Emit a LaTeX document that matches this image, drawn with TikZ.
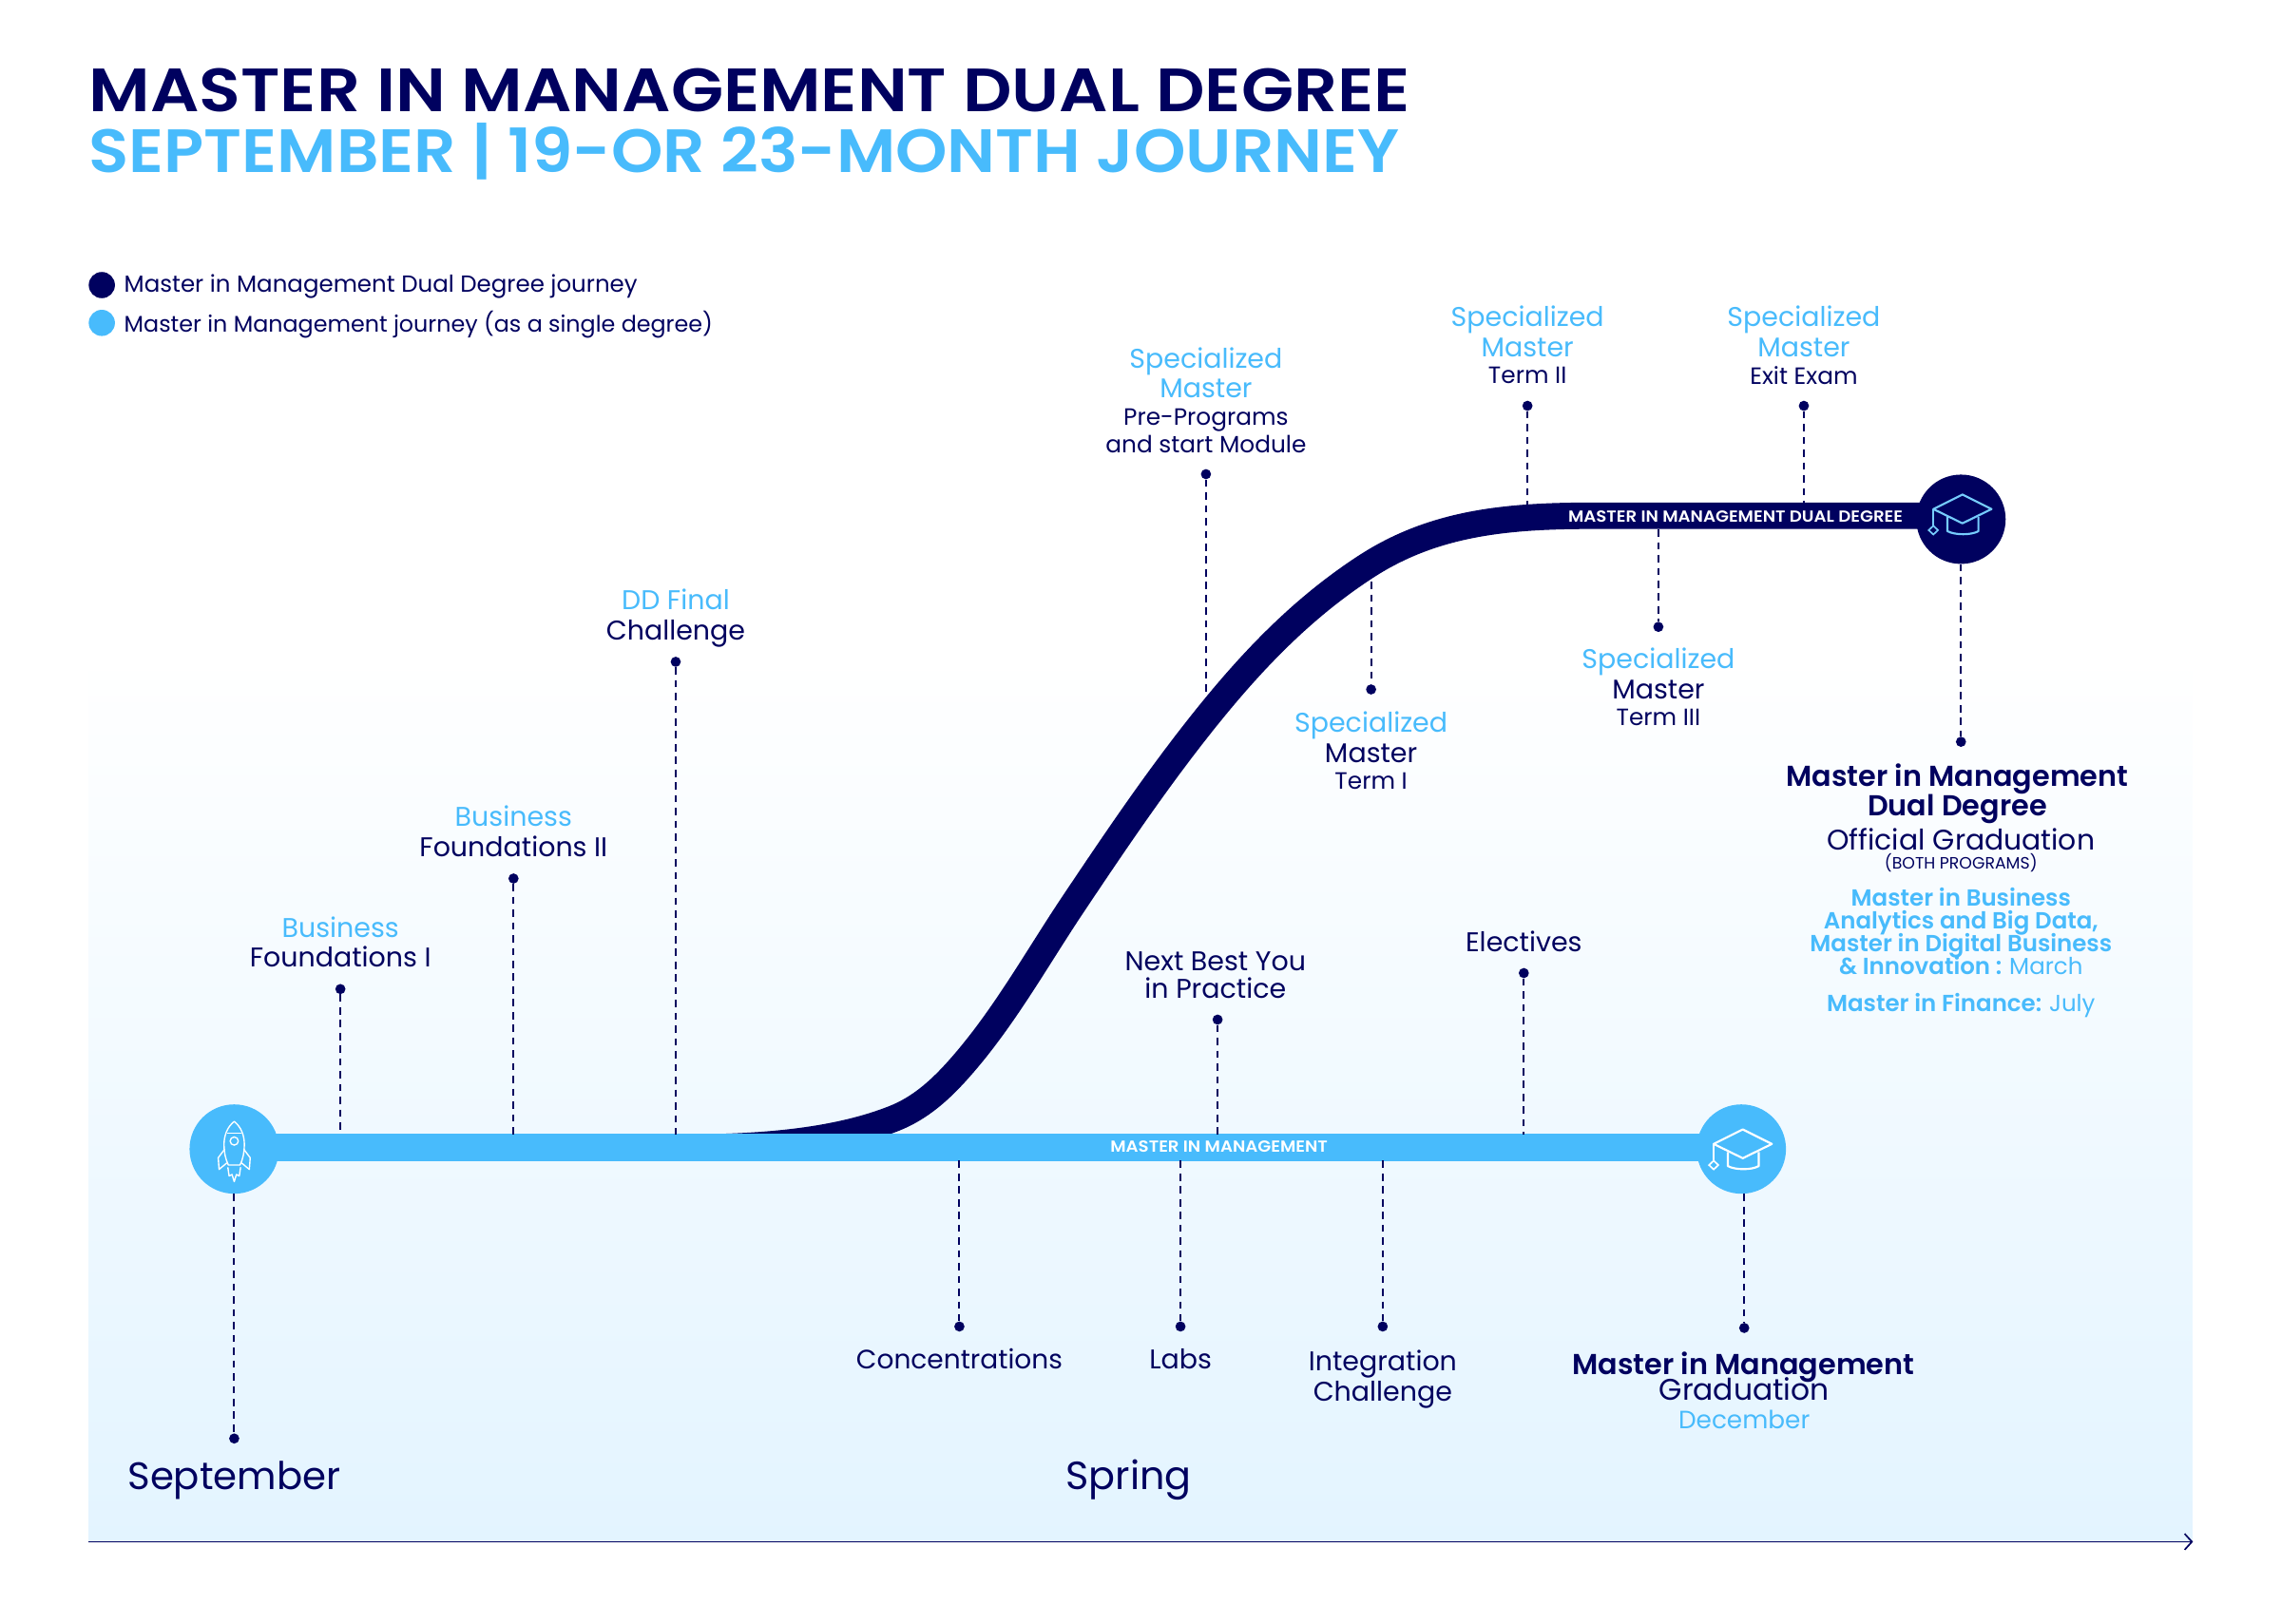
\documentclass[tikz,border=0pt]{standalone}
\usepackage{fontspec}
\usetikzlibrary{positioning,arrows.meta}
\setmainfont{Poppins}[BoldFont={Poppins SemiBold}]
\definecolor{navy}{HTML}{00015F}
\definecolor{sky}{HTML}{48BBFC}
\definecolor{bgblue}{HTML}{E3F4FF}
\lineskiplimit=-10pt
\tikzset{
  lbl/.style={anchor=north, inner sep=0pt, align=center, text=navy, font=\fontsize{18.6}{20.7}\selectfont},
  sublbl/.style={lbl, font=\fontsize{16.2}{18.5}\selectfont},
  boldlbl/.style={lbl, font=\fontsize{19.8}{20}\bfseries},
  bluelbl/.style={lbl, text=sky, font=\fontsize{16}{15.7}\bfseries},
  dot/.style={circle, fill=navy, inner sep=0pt, minimum size=7pt},
  conn/.style={navy, line width=1.3pt, dash pattern=on 5pt off 3.8pt},
  barlbl/.style={inner sep=0pt, text=white, font=\fontsize{11}{12}\bfseries\addfontfeature{FakeStretch=1.08}},
  pics/hat/.style={code={
    \draw[#1, line width=1.4pt, line join=round] (1,-13.5) -- (21,-3.5) -- (1,6.3) -- (-19,-3.5) -- cycle;
    \draw[#1, line width=1.4pt, line join=round] (-9.3,2) -- (-9.3,11.7) .. controls (-4,14.5) and (7,14.5) .. (12,11.7) -- (12,2);
    \draw[#1, line width=1.1pt] (-19,-3.5) -- (-19,8);
    \draw[#1, line width=1.1pt] (-19,8) -- (-15.8,11) -- (-19,14) -- (-22.2,11) -- cycle;
  }},
  pics/rocket/.style={code={
    \draw[#1, line width=0.9pt, line join=round] (0,-19) .. controls (-5,-15) and (-7,-9) .. (-7,-3) .. controls (-7,2) and (-6,7) .. (-4,11) -- (4,11) .. controls (6,7) and (7,2) .. (7,-3) .. controls (7,-9) and (5,-15) .. (0,-19) -- cycle;
    \draw[#1, line width=0.9pt] (-4.8,-11) -- (4.8,-11);
    \draw[#1, line width=0.9pt] (0,-5.5) circle[radius=2.8pt];
    \draw[#1, line width=0.9pt, line join=round] (-6.5,0) -- (-11,6) -- (-10.4,14) -- (-5,9.5);
    \draw[#1, line width=0.9pt, line join=round] (6.5,0) -- (11,6) -- (10.4,14) -- (5,9.5);
    \draw[#1, line width=0.9pt, line join=round] (-4.4,12.5) -- (-3.5,18.5) -- (-1.5,17.5) -- (0,22.4) -- (1.5,17.5) -- (3.5,18.5) -- (4.4,12.5);
  }}
}
\begin{document}
\begin{tikzpicture}[x=1pt, y=-1pt, >={Straight Barb[length=5pt,width=11pt]}]
\useasboundingbox (0,0) rectangle (1568,1116);
% background
\fill[white] (0,0) rectangle (1568,1116);
\shade[top color=white, bottom color=bgblue] (61,450) rectangle (1507,1060);
\coordinate (axisl) at (61,1060);
\coordinate (axisr) at (1507.5,1060);
\draw[->, navy, line width=1.1pt] (axisl) -- (axisr);
% title
\node[anchor=base west, inner sep=0pt, text=navy, font=\fontsize{42}{46}\bfseries\addfontfeature{FakeStretch=1.117}] (title) at (61,76.5) {MASTER IN MANAGEMENT DUAL DEGREE};
\node[anchor=base west, inner sep=0pt, text=sky, font=\fontsize{42}{46}\bfseries\addfontfeature{FakeStretch=1.078}] (subtitle) at (61,118.5) {SEPTEMBER | 19-OR 23-MONTH JOURNEY};
% legend
\node[circle, fill=navy, inner sep=0pt, minimum size=18pt] (legdual) at (70,196) {};
\node[circle, fill=sky, inner sep=0pt, minimum size=18pt] (legsingle) at (70,222) {};
\node[inner sep=0pt, text=navy, font=\fontsize{16}{18}\selectfont, right=6pt of legdual, yshift=-1pt] (legdualtxt) {Master in Management Dual Degree journey};
\node[inner sep=0pt, text=navy, font=\fontsize{15.55}{18}\selectfont, right=6pt of legsingle, yshift=-1pt] (legsingletxt) {Master in Management journey (as a single degree)};
% journeys
\coordinate (curvestart) at (470,789);
\coordinate (curveend) at (1094,354.6);
\coordinate (barend) at (1340,354.6);
\node[circle, fill=navy, inner sep=0pt, minimum size=61.4pt] (capdual) at (1348,357) {};
\draw[navy, line width=18.2pt] (curvestart) .. controls (530,789) and (577,783.6) .. (614,769.2) .. controls (632.6,762) and (646.8,749) .. (660,734) .. controls (690.4,699.5) and (712.7,658.9) .. (738.3,620.7) .. controls (768.3,575.9) and (798,531.9) .. (832,490) .. controls (863.5,451.2) and (896.8,417.1) .. (938.6,389.8) .. controls (984.6,359.8) and (1034,354.6) .. (curveend) -- (barend);
\coordinate (barl) at (170,789);
\coordinate (barr) at (1190,789);
\draw[sky, line width=18.6pt] (barl) -- (barr);
\node[circle, fill=sky, inner sep=0pt, minimum size=61.4pt] (start) at (161,790) {};
\node[circle, fill=sky, inner sep=0pt, minimum size=61.4pt] (capsingle) at (1197,790) {};
\pic at (161,790) {rocket=white};
\pic at (1197,790) {hat=white};
\pic at (1348,353.5) {hat=sky!75!white};
\node[barlbl] (barsingle) at (838,788) {MASTER IN MANAGEMENT};
\node[barlbl] (bardual) at (1193,355) {MASTER IN MANAGEMENT DUAL DEGREE};
% points above the lines
\node[dot] (found1) at (234,680) {};
\coordinate (found1end) at (234,780);
\draw[conn] (found1) -- (found1end);
\node[lbl] at (234,630) {\textcolor{sky}{Business}\\Foundations I};
\node[dot] (found2) at (353,604) {};
\coordinate (found2end) at (353,780);
\draw[conn] (found2) -- (found2end);
\node[lbl] at (353,554) {\textcolor{sky}{Business}\\Foundations II};
\node[dot] (ddfinal) at (464.5,455) {};
\coordinate (ddfinalend) at (464.5,780);
\draw[conn] (ddfinal) -- (ddfinalend);
\node[lbl] at (464.5,405) {\textcolor{sky}{DD Final}\\Challenge};
\node[dot] (pre) at (829,326) {};
\coordinate (preend) at (829,482);
\draw[conn] (pre) -- (preend);
\node[lbl, text=sky] at (829,238.5) {Specialized\\Master};
\node[sublbl] at (829,281) {Pre-Programs\\and start Module};
\node[dot] (term2) at (1050,279) {};
\coordinate (term2end) at (1050,347);
\draw[conn] (term2) -- (term2end);
\node[lbl, text=sky] at (1050,210) {Specialized\\Master};
\node[sublbl] at (1050,252) {Term II};
\node[dot] (exit) at (1240,279) {};
\coordinate (exitend) at (1240,346);
\draw[conn] (exit) -- (exitend);
\node[lbl, text=sky] at (1240,210) {Specialized\\Master};
\node[sublbl] at (1240,252) {Exit Exam};
\node[dot] (next) at (837,701) {};
\coordinate (nextend) at (837,780);
\draw[conn] (next) -- (nextend);
\node[lbl, font=\fontsize{18.6}{19}\selectfont] at (835.5,654) {Next Best You\\in Practice};
\node[dot] (elect) at (1047.5,669) {};
\coordinate (electend) at (1047.5,780);
\draw[conn] (elect) -- (electend);
\node[lbl] at (1047.5,640) {Electives};
% points below the lines
\node[dot] (term1) at (942.5,474) {};
\coordinate (term1end) at (942.5,400);
\draw[conn] (term1end) -- (term1);
\node[lbl] at (942.5,489) {\textcolor{sky}{Specialized}\\Master};
\node[sublbl] at (942.5,531) {Term I};
\node[dot] (term3) at (1140,431) {};
\coordinate (term3end) at (1140,364);
\draw[conn] (term3end) -- (term3);
\node[lbl] at (1140,445.5) {\textcolor{sky}{Specialized}\\Master};
\node[sublbl] at (1140,487) {Term III};
\node[dot] (gradudual) at (1348,510) {};
\draw[conn] (capdual) -- (gradudual);
\node[boldlbl] at (1345.5,525) {Master in Management\\Dual Degree};
\node[lbl, font=\fontsize{19.5}{21}\selectfont] at (1348,569) {Official Graduation};
\node[lbl, font=\fontsize{11.3}{12}\selectfont] at (1348,587) {(BOTH PROGRAMS)};
\node[bluelbl] at (1348,610) {Master in Business\\Analytics and Big Data,\\Master in Digital Business\\\& Innovation : \mdseries March};
\node[bluelbl] at (1348,683) {Master in Finance: \mdseries July};
\node[dot] (conc) at (659.5,912) {};
\coordinate (concend) at (659.5,798);
\draw[conn] (concend) -- (conc);
\node[lbl, font=\fontsize{18.3}{21}\selectfont] at (659.5,927) {Concentrations};
\node[dot] (labs) at (811.5,912) {};
\coordinate (labsend) at (811.5,798);
\draw[conn] (labsend) -- (labs);
\node[lbl] at (811.5,927) {Labs};
\node[dot] (integ) at (950.5,912) {};
\coordinate (integend) at (950.5,798);
\draw[conn] (integend) -- (integ);
\node[lbl] at (950.5,928) {Integration\\Challenge};
\node[dot] (gradusingle) at (1199,913) {};
\draw[conn] (capsingle.south -| gradusingle) -- (gradusingle);
\node[boldlbl] at (1198.5,929) {Master in Management};
\node[lbl, font=\fontsize{20.5}{21}\selectfont] at (1199,947) {Graduation};
\node[lbl, text=sky, font=\fontsize{17.2}{18}\selectfont] at (1199,969.5) {December};
\node[dot] (sept) at (161,989) {};
\draw[conn] (start) -- (sept);
\node[lbl, font=\fontsize{26.3}{28}\selectfont] at (161,1004.5) {September};
\node[lbl, font=\fontsize{27}{28}\selectfont] at (776,1003.5) {Spring};
\end{tikzpicture}
\end{document}
